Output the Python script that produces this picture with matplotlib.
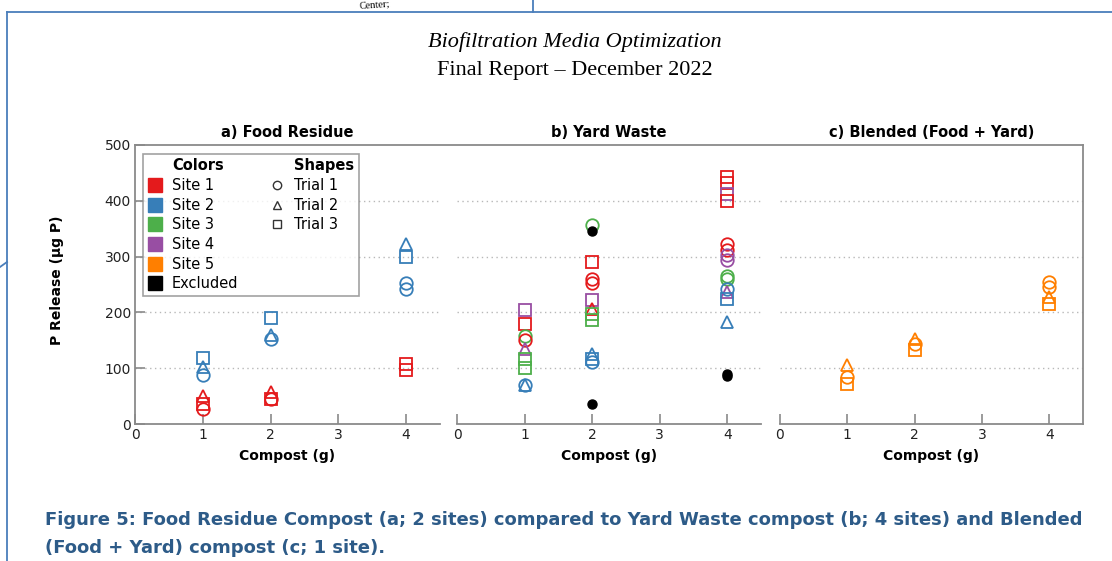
import matplotlib.pyplot as plt
from matplotlib.lines import Line2D

# site index: 0 = excluded, 1..5 = sites ; trial: 1 circle, 2 triangle, 3 square, 0 excluded dot
site_colors = ['#000000', '#E41A1C', '#377EB8', '#4DAF4A', '#984EA3', '#FF7F00']
site_names = ['Excluded', 'Site 1', 'Site 2', 'Site 3', 'Site 4', 'Site 5']
trial_markers = {1: 'o', 2: '^', 3: 's'}
trial_names = ['Trial 1', 'Trial 2', 'Trial 3']

panel_titles = ['a) Food Residue', 'b) Yard Waste', 'c) Blended (Food + Yard)']
x_ticks = [0, 1, 2, 3, 4]
y_ticks = [0, 100, 200, 300, 400, 500]
grid_levels = [100, 200, 300, 400]

# a) food residue
food_x = [1, 1, 1, 1, 1, 1, 2, 2, 2, 2, 2, 2, 4, 4, 4, 4, 4, 4]
food_y = [118, 103, 88, 50, 35, 27, 190, 160, 153, 45, 57, 45, 323, 300, 253, 242, 107, 97]
food_site = [2, 2, 2, 1, 1, 1, 2, 2, 2, 1, 1, 1, 2, 2, 2, 2, 1, 1]
food_trial = [3, 2, 1, 2, 3, 1, 3, 2, 1, 1, 2, 3, 2, 3, 1, 1, 3, 3]

# b) yard waste
yard_x = [1, 1, 1, 1, 1, 1, 1, 1, 1,
          2, 2, 2, 2, 2, 2, 2, 2, 2, 2, 2, 2, 2,
          4, 4, 4, 4, 4, 4, 4, 4, 4, 4, 4, 4, 4, 4, 4, 4]
yard_y = [204, 180, 158, 150, 135, 117, 101, 70, 70,
          356, 346, 290, 260, 252, 223, 206, 197, 186, 126, 117, 111, 36,
          442, 432, 413, 399, 322, 311, 302, 294, 266, 260, 242, 236, 224, 182, 90, 86]
yard_site = [4, 1, 3, 1, 4, 3, 3, 2, 2,
             3, 0, 1, 1, 1, 4, 1, 3, 3, 2, 2, 2, 0,
             1, 1, 4, 1, 1, 1, 4, 4, 3, 3, 2, 4, 2, 2, 0, 0]
yard_trial = [3, 3, 1, 1, 2, 3, 3, 1, 2,
              1, 0, 3, 1, 1, 3, 2, 3, 3, 2, 3, 1, 0,
              3, 3, 3, 3, 1, 1, 1, 1, 1, 1, 1, 2, 3, 2, 0, 0]

# c) blended
blend_x = [1, 1, 1, 2, 2, 2, 4, 4, 4, 4]
blend_y = [105, 84, 72, 152, 143, 132, 254, 245, 227, 215]
blend_site = [5, 5, 5, 5, 5, 5, 5, 5, 5, 5]
blend_trial = [2, 1, 3, 2, 1, 3, 1, 1, 2, 3]

panels = [(food_x, food_y, food_site, food_trial),
          (yard_x, yard_y, yard_site, yard_trial),
          (blend_x, blend_y, blend_site, blend_trial)]

plt.rcParams['font.family'] = ['DejaVu Sans']
W, H = 1112, 561
fig = plt.figure(figsize=(W / 100, H / 100), dpi=100)


def fx(px):
    return px / W


def fy(py):
    return 1 - py / H


axis_gray = '#8a8a8a'
ax_left = [135, 457, 780]
ax_right = [440, 761, 1083]
top, bottom = 145, 424

# common top frame line spanning all three panels
frame = fig.add_axes([fx(135), fy(bottom), fx(1083 - 135), (bottom - top) / H])
frame.set_xticks([])
frame.set_yticks([])
frame.patch.set_visible(False)
for s in ['left', 'right', 'bottom']:
    frame.spines[s].set_visible(False)
frame.spines['top'].set_color(axis_gray)
frame.spines['top'].set_linewidth(1.3)

axes = []
for i in range(3):
    ax = fig.add_axes([fx(ax_left[i]), fy(bottom), fx(ax_right[i] - ax_left[i]), (bottom - top) / H])
    ax.patch.set_visible(False)
    ax.set_xlim(0, 4.5)
    ax.set_ylim(0, 500)
    ax.set_xticks(x_ticks)
    ax.set_yticks(y_ticks)
    ax.tick_params(direction='in', length=7, width=1.2, color=axis_gray, labelsize=10, pad=3,
                   labelcolor='#222222')
    for s in ax.spines.values():
        s.set_color(axis_gray)
        s.set_linewidth(1.3)
    ax.spines['top'].set_visible(False)
    ax.spines['right'].set_visible(i == 2)
    ax.spines['left'].set_visible(i == 0)
    if i > 0:
        ax.tick_params(axis='y', left=False, labelleft=False)
    for g in grid_levels:
        ax.axhline(g, color='#b8b8b8', lw=1, ls=(0, (1, 2.5)), zorder=0)
    ax.set_title(panel_titles[i], fontsize=10.5, fontweight='bold', pad=6)
    ax.set_xlabel('Compost (g)', fontsize=10, fontweight='bold', labelpad=5)

    xs, ys, sites, trials = panels[i]
    for x, y, s, t in zip(xs, ys, sites, trials):
        if t == 0:
            ax.plot(x, y, marker='o', ms=6.5, mfc='black', mec='black', ls='none', zorder=4)
        else:
            ax.plot(x, y, marker=trial_markers[t], ms=9, mfc='none', mec=site_colors[s],
                    mew=1.3, ls='none', zorder=3)
    axes.append(ax)

fig.text(fx(57), fy(280), 'P Release (μg P)', rotation=90, ha='center', va='center',
         fontsize=10, fontweight='bold')

# legend: two columns with headers
handles, labels = [], []
handles.append(Line2D([], [], ls='none'))
labels.append('Colors')
for k in [1, 2, 3, 4, 5, 0]:
    handles.append(Line2D([], [], ls='none', marker='s', ms=10.5, mfc=site_colors[k], mec=site_colors[k]))
    labels.append(site_names[k])
handles.append(Line2D([], [], ls='none'))
labels.append('Shapes')
for t in [1, 2, 3]:
    handles.append(Line2D([], [], ls='none', marker=trial_markers[t], ms=6, mfc='none', mec='#333333', mew=1))
    labels.append(trial_names[t - 1])
for _ in range(3):
    handles.append(Line2D([], [], ls='none'))
    labels.append('')

leg = axes[0].legend(handles, labels, ncol=2, loc='upper left', bbox_to_anchor=(0.026, 0.968),
                     fontsize=10.5, frameon=True, fancybox=False, edgecolor=axis_gray,
                     handlelength=1.0, handletextpad=0.7, labelspacing=0.32, columnspacing=2.1,
                     borderpad=0.3, borderaxespad=0)
leg.get_frame().set_linewidth(1.2)
for txt in leg.get_texts():
    if txt.get_text() in ('Colors', 'Shapes'):
        txt.set_fontweight('bold')

# page header
fig.text(0.517, fy(42), 'Biofiltration Media Optimization', ha='center', va='center',
         family='Liberation Serif', style='italic', fontsize=16)
fig.text(0.517, fy(71), 'Final Report – December 2022', ha='center', va='center',
         family='Liberation Serif', fontsize=16)
fig.text(fx(375), fy(5), 'Center;', ha='center', va='center', family='Liberation Serif',
         fontsize=7.5, rotation=4)

# caption
cap_color = '#2D5B88'
fig.text(fx(45), fy(520), 'Figure 5: Food Residue Compost (a; 2 sites) compared to Yard Waste compost (b; 4 sites) and Blended',
         ha='left', va='center', fontsize=13, fontweight='bold', color=cap_color)
fig.text(fx(45), fy(548), '(Food + Yard) compost (c; 1 site).',
         ha='left', va='center', fontsize=13, fontweight='bold', color=cap_color)

# page border lines from the document screenshot
blue = '#4A7EBB'
fig.add_artist(Line2D([fx(7), 1], [fy(12), fy(12)], color=blue, lw=1.3))
fig.add_artist(Line2D([fx(7), fx(7)], [fy(12), 0], color=blue, lw=1.3))
fig.add_artist(Line2D([fx(533), fx(533)], [1, fy(12)], color=blue, lw=1.3))
fig.add_artist(Line2D([0, fx(7)], [fy(267), fy(262)], color=blue, lw=1.3))

fig.savefig('out.png', dpi=100)
